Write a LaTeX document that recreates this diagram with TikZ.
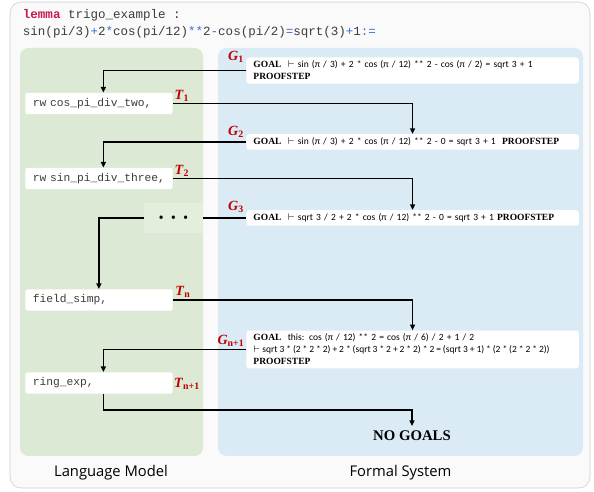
\documentclass[tikz,border=0pt]{standalone}
\usepackage{fontspec}
\setmainfont{Liberation Serif}
\setsansfont{Carlito}
\setmonofont{Liberation Mono}
\newfontfamily\uifont{Open Sans}
\usetikzlibrary{arrows.meta}

\definecolor{StepRed}{RGB}{192,0,0}
\definecolor{KeyRed}{RGB}{196,26,76}
\definecolor{OpBlue}{RGB}{64,110,210}
\definecolor{CodeGray}{RGB}{60,60,60}
\definecolor{LMGreen}{RGB}{220,233,213}
\definecolor{DotGreen}{RGB}{227,238,221}
\definecolor{FSBlue}{RGB}{218,235,245}

\newcommand{\steplab}[2]{\textcolor{StepRed}{\textbf{\textit{#1}}\textsubscript{\textbf{#2}}}}
\newcommand{\goalkw}[1]{{\rmfamily\bfseries #1}}
\newcommand{\opc}[1]{\textcolor{OpBlue}{#1}}

\begin{document}
\begin{tikzpicture}[
      x=0.025cm, y=-0.025cm,
      TacticBox/.style={
        fill=white, rounded corners=1.5pt, anchor=west,
        text width=3.3cm, align=left, inner xsep=0.19cm,
        minimum height=0.53cm, text=CodeGray,
        font=\ttfamily\fontsize{8}{9}\selectfont,
      },
      GoalBox/.style={
        fill=white, rounded corners=2pt, anchor=west,
        text width=7.95cm, align=left, inner xsep=0.18cm, inner ysep=2.5pt,
        font=\sffamily\fontsize{6.75}{8.5}\selectfont,
      },
      Flow/.style={
        draw, line width=1pt,
        -{Triangle[length=4pt,width=3.5pt]},
      },
      ]
      \useasboundingbox (0,0) rectangle (594,492);
      \draw[rounded corners=8pt, draw=black!20, fill=black!2] (10,2) rectangle (590,488);
      \fill[rounded corners=6pt, LMGreen] (20,48) rectangle (203,456);
      \fill[rounded corners=6pt, FSBlue] (218,48) rectangle (583,456);

      \node[anchor=west, text=CodeGray, font=\ttfamily\fontsize{8.9}{10}\selectfont] (head) at (18,15)
        {\textcolor{KeyRed}{\textbf{lemma}} trigo\_example :};
      \node[anchor=west, text=CodeGray, font=\ttfamily\fontsize{8.9}{10}\selectfont] (stmt) at (18,32)
        {sin(pi/3)\opc{+}2\opc{*}cos(pi/12)\opc{**}2\opc{-}cos(pi/2)\opc{=}sqrt(3)\opc{+}1\opc{:=}};

      \node[GoalBox] (G1) at (246,70.5) {\goalkw{GOAL}\ \ $\vdash$ sin (π / 3) + 2 * cos (π / 12) ** 2 - cos (π / 2) = sqrt 3 + 1\\\goalkw{PROOFSTEP}};
      \node[GoalBox] (G2) at (246,142) {\goalkw{GOAL}\ \ $\vdash$ sin (π / 3) + 2 * cos (π / 12) ** 2 - 0 = sqrt 3 + 1\ \ \goalkw{PROOFSTEP}};
      \node[GoalBox] (G3) at (246,218) {\goalkw{GOAL}\ \ $\vdash$ sqrt 3 / 2 + 2 * cos (π / 12) ** 2 - 0 = sqrt 3 + 1 \goalkw{PROOFSTEP}};
      \node[GoalBox] (Gn1) at (246,349.5) {\goalkw{GOAL}\ \ this: cos (π / 12) ** 2 = cos (π / 6) / 2 + 1 / 2\\\mbox{\spaceskip=1.4pt$\vdash$ sqrt 3 * (2 * 2 * 2) + 2 * (sqrt 3 * 2 + 2 * 2) * 2 = (sqrt 3 + 1) * (2 * (2 * 2 * 2))}\\\goalkw{PROOFSTEP}};
      \node[font=\bfseries\fontsize{10.5}{12}\selectfont] (done) at (412,436) {NO GOALS};

      \node[TacticBox] (rw1) at (25,103.5) {rw cos\_pi\_div\_two,};
      \node[TacticBox] (rw2) at (25,178.5) {rw sin\_pi\_div\_three,};
      \node[fill=DotGreen, minimum width=1.47cm, minimum height=0.75cm, inner sep=0pt] (dots) at (173.5,218)
        {\tiny$\bullet$\hspace{5pt}$\bullet$\hspace{5pt}$\bullet$};
      \node[TacticBox] (fs) at (25,300) {field\_simp,};
      \node[TacticBox] (re) at (25,383) {ring\_exp,};

      \node[font=\fontsize{10}{12}\selectfont] (lG1) at (236,57) {\steplab{G}{1}};
      \node[font=\fontsize{10}{12}\selectfont] (lT1) at (182,96) {\steplab{T}{1}};
      \node[font=\fontsize{10}{12}\selectfont] (lG2) at (236,132) {\steplab{G}{2}};
      \node[font=\fontsize{10}{12}\selectfont] (lT2) at (182,171) {\steplab{T}{2}};
      \node[font=\fontsize{10}{12}\selectfont] (lG3) at (236,207) {\steplab{G}{3}};
      \node[font=\fontsize{10}{12}\selectfont] (lTn) at (183,292) {\steplab{T}{n}};
      \node[font=\fontsize{10}{12}\selectfont] (lGn1) at (231,341) {\steplab{G}{n+1}};
      \node[font=\fontsize{10}{12}\selectfont] (lTn1) at (187,384) {\steplab{T}{n+1}};

      \draw[Flow] (G1.west) -| ([xshift=3.2pt]rw1.north);
      \draw[Flow] (rw1.east) -| (G2.north);
      \draw[Flow] (G2.west) -| ([xshift=3.2pt]rw2.north);
      \draw[Flow] (rw2.east) -| (G3.north);
      \draw[line width=1pt] (G3.west) -- (dots.east);
      \draw[Flow] (dots.west) -| (fs.north);
      \draw[Flow] (fs.east) -| (Gn1.north);
      \draw[Flow] (Gn1.west) -| ([xshift=3.2pt]re.north);
      \draw[Flow] ([xshift=3.2pt]re.south) -- ++(0,16) -| (done.north);

      \node[font=\uifont\fontsize{10.5}{12}\selectfont] (lm) at (111,473) {Language Model};
      \node[font=\uifont\fontsize{10.5}{12}\selectfont] (fsys) at (400.5,473) {Formal System};
    \end{tikzpicture}
\end{document}
